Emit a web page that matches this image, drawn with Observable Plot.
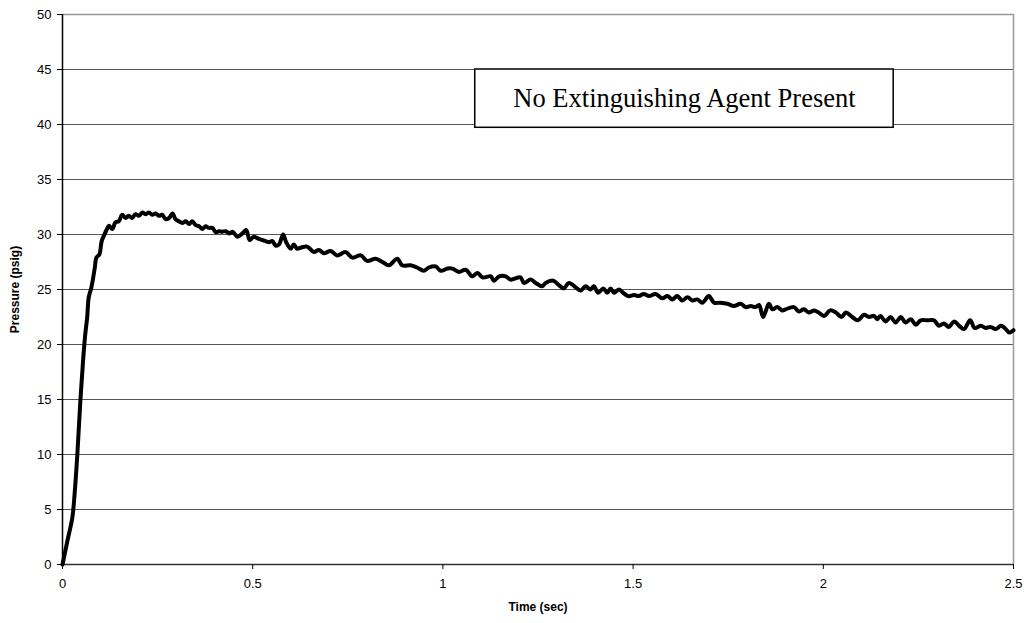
<!DOCTYPE html>
<html>
<head>
<meta charset="utf-8">
<script src="https://cdn.jsdelivr.net/npm/d3@7"></script>
<script src="https://cdn.jsdelivr.net/npm/@observablehq/plot@0.6"></script>
<style>
  html, body { margin: 0; padding: 0; background: #fff; }
  #chart svg { font-family: "Liberation Sans", Arial, sans-serif; }
  g[aria-label="y-axis label"] text, g[aria-label="x-axis label"] text { font-weight: bold; font-size: 12px; }
</style>
</head>
<body>
<div id="chart"></div>
<script>
// Time (sec)
const time = [
  0, 0.012, 0.026, 0.032, 0.039, 0.047, 0.054, 0.060, 0.065, 0.069,
  0.076, 0.085, 0.089, 0.097, 0.103, 0.109, 0.117, 0.122, 0.131, 0.139,
  0.148, 0.157, 0.166, 0.174, 0.183, 0.192, 0.201, 0.210, 0.218, 0.227,
  0.236, 0.245, 0.254, 0.262, 0.271, 0.280, 0.289, 0.297, 0.306, 0.315,
  0.324, 0.333, 0.341, 0.350, 0.359, 0.368, 0.376, 0.385, 0.394, 0.403,
  0.412, 0.420, 0.429, 0.438, 0.447, 0.460, 0.473, 0.483, 0.492, 0.503,
  0.516, 0.525, 0.534, 0.543, 0.552, 0.560, 0.569, 0.580, 0.588, 0.600,
  0.608, 0.617, 0.626, 0.643, 0.661, 0.674, 0.687, 0.705, 0.722, 0.744,
  0.762, 0.784, 0.801, 0.823, 0.841, 0.858, 0.880, 0.893, 0.915, 0.932,
  0.950, 0.963, 0.981, 0.994, 1.012, 1.025, 1.042, 1.060, 1.077, 1.091,
  1.104, 1.126, 1.134, 1.148, 1.165, 1.178, 1.204, 1.213, 1.231, 1.244,
  1.261, 1.270, 1.290, 1.305, 1.318, 1.331, 1.349, 1.362, 1.375, 1.388,
  1.397, 1.408, 1.422, 1.432, 1.441, 1.450, 1.463, 1.474, 1.487, 1.503,
  1.515, 1.528, 1.542, 1.559, 1.577, 1.590, 1.603, 1.616, 1.629, 1.643,
  1.656, 1.669, 1.682, 1.699, 1.713, 1.730, 1.748, 1.765, 1.783, 1.796,
  1.809, 1.822, 1.831, 1.842, 1.857, 1.866, 1.879, 1.892, 1.901, 1.923,
  1.936, 1.949, 1.962, 1.976, 1.988, 2.002, 2.018, 2.033, 2.048, 2.059,
  2.076, 2.091, 2.107, 2.120, 2.133, 2.142, 2.150, 2.164, 2.177, 2.190,
  2.204, 2.216, 2.230, 2.243, 2.256, 2.274, 2.291, 2.304, 2.317, 2.330,
  2.344, 2.357, 2.370, 2.386, 2.398, 2.414, 2.427, 2.440, 2.453, 2.467,
  2.477, 2.489, 2.500
];
// Pressure (psig)
const pressure = [
  0, 2.0, 4.3, 6.5, 10.0, 14.9, 18.5, 21.0, 22.5, 24.3,
  25.2, 27.0, 27.9, 28.2, 29.4, 29.9, 30.5, 30.8, 30.5, 31.1,
  31.2, 31.8, 31.5, 31.7, 31.5, 31.85, 31.7, 32.0, 31.85, 32.0,
  31.8, 31.9, 31.7, 31.8, 31.4, 31.5, 31.9, 31.4, 31.2, 31.05,
  31.2, 30.95, 31.2, 30.85, 30.75, 30.5, 30.75, 30.6, 30.6, 30.2,
  30.3, 30.25, 30.3, 30.1, 30.25, 29.8, 30.1, 30.4, 29.5, 29.8,
  29.6, 29.5, 29.4, 29.3, 29.4, 29.0, 29.1, 30.0, 29.3, 28.7,
  29.1, 28.7, 28.8, 28.9, 28.4, 28.6, 28.3, 28.5, 28.1, 28.4,
  27.9, 28.1, 27.6, 27.8, 27.5, 27.2, 27.8, 27.2, 27.2, 27.0,
  26.7, 27.0, 27.1, 26.7, 26.9, 26.9, 26.6, 26.8, 26.2, 26.5,
  26.1, 26.2, 25.8, 26.2, 26.2, 25.9, 26.1, 25.6, 25.9, 25.6,
  25.3, 25.6, 25.8, 25.4, 25.1, 25.6, 25.2, 24.9, 25.3, 25.0,
  25.3, 24.7, 25.1, 24.7, 25.1, 24.7, 25.0, 24.7, 24.4, 24.5,
  24.4, 24.6, 24.4, 24.6, 24.2, 24.4, 24.1, 24.4, 24.0, 24.3,
  24.0, 24.1, 23.8, 24.4, 23.8, 23.8, 23.7, 23.5, 23.7, 23.4,
  23.5, 23.4, 23.6, 22.5, 23.7, 23.2, 23.4, 23.1, 23.2, 23.4,
  23.0, 23.2, 22.9, 23.1, 22.9, 22.6, 23.1, 22.9, 22.5, 22.9,
  22.5, 22.2, 22.7, 22.5, 22.6, 22.3, 22.6, 22.1, 22.5, 22.0,
  22.5, 22.0, 22.3, 21.8, 22.2, 22.2, 22.2, 21.7, 21.9, 21.6,
  22.1, 21.7, 21.4, 22.2, 21.5, 21.7, 21.5, 21.6, 21.4, 21.7,
  21.5, 21.1, 21.3
];
const xTicks = [0, 0.5, 1, 1.5, 2, 2.5];
const xTickLabels = ["0", "0.5", "1", "1.5", "2", "2.5"];
const yTicks = [0, 5, 10, 15, 20, 25, 30, 35, 40, 45, 50];
const yGrid = [5, 10, 15, 20, 25, 30, 35, 40, 45];
const xLabel = "Time (sec)";
const yLabel = "Pressure (psig)";
// Annotation box: [x1, x2] in sec, [y1, y2] in psig, and its text
const noteText = ["No Extinguishing Agent Present"];
const noteX = [1.085, 2.185];
const noteY = [39.7, 45.0];

const data = time.map((t, i) => ({t, p: pressure[i]}));
const note = [{x1: noteX[0], x2: noteX[1], y1: noteY[0], y2: noteY[1], label: noteText[0]}];

const chart = Plot.plot({
  width: 1024,
  height: 623,
  marginLeft: 62,
  marginRight: 11,
  marginTop: 14,
  marginBottom: 59,
  style: {fontSize: "13px", fontFamily: "'Liberation Sans', Arial, sans-serif", color: "#000", background: "#fff"},
  x: {domain: [0, 2.5]},
  y: {domain: [0, 50]},
  marks: [
    Plot.ruleY(yGrid, {stroke: "#555", strokeWidth: 1, strokeOpacity: 1}),
    Plot.ruleY([50], {stroke: "#999", strokeWidth: 1.5, strokeOpacity: 1}),
    Plot.ruleX([2.5], {stroke: "#999", strokeWidth: 1.5, strokeOpacity: 1}),
    Plot.rect(note, {x1: "x1", x2: "x2", y1: "y1", y2: "y2", fill: "#fff", stroke: "#000", strokeWidth: 1.5}),
    Plot.text(note, {x: d => (d.x1 + d.x2) / 2, y: d => (d.y1 + d.y2) / 2, text: "label",
      fontFamily: "'Liberation Serif', 'Times New Roman', serif", fontSize: 26.5, fill: "#000"}),
    Plot.ruleY([0], {stroke: "#333", strokeWidth: 1.5, strokeOpacity: 1}),
    Plot.ruleX([0], {stroke: "#000", strokeWidth: 1.5, strokeOpacity: 1}),
    Plot.axisX({ticks: xTicks, tickFormat: (d, i) => xTickLabels[xTicks.indexOf(d)], tickSize: 5, tickPadding: 9,
      label: xLabel, labelAnchor: "center", labelArrow: "none", labelOffset: 46}),
    Plot.axisY({ticks: yTicks, tickSize: 5, tickPadding: 6,
      label: yLabel, labelAnchor: "center", labelArrow: "none", labelOffset: 52}),
    Plot.line(data, {x: "t", y: "p", stroke: "#000", strokeWidth: 4, curve: "catmull-rom", strokeLinejoin: "round"})
  ]
});
document.getElementById("chart").appendChild(chart);
</script>
</body>
</html>
